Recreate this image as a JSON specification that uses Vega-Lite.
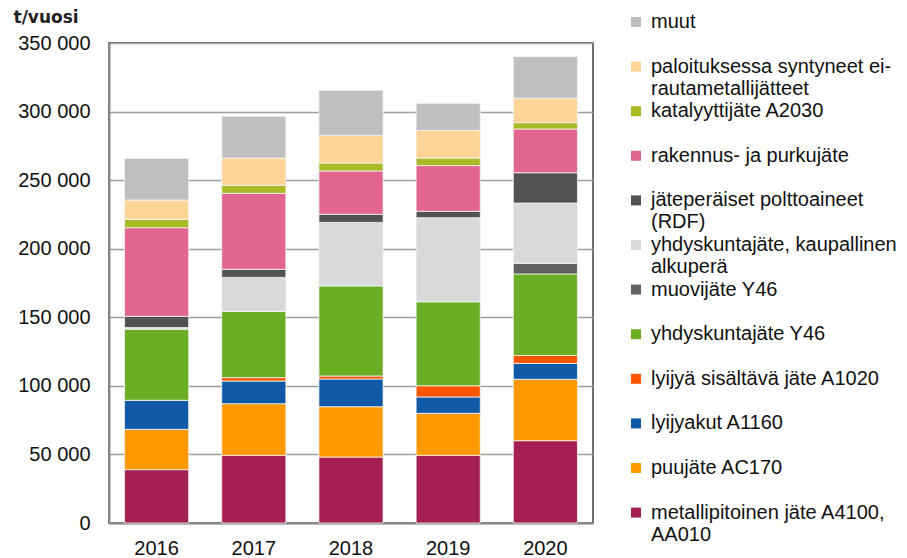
{
  "$schema": "https://vega.github.io/schema/vega-lite/v6.json",
  "width": 484,
  "height": 480,
  "autosize": {"type": "none"},
  "padding": {"left": 109, "top": 43, "right": 314, "bottom": 35},
  "background": "white",
  "config": {
    "locale": {"number": {"decimal": ",", "thousands": " ", "grouping": [3], "currency": ["", " €"]}},
    "view": {"stroke": "#404040", "strokeWidth": 1.5},
    "font": "Liberation Sans"
  },
  "data": {
    "values": [
      {"v": "2016", "o": 1, "c": "metallipitoinen jäte A4100,|AA010", "t": 38900},
      {"v": "2016", "o": 2, "c": "puujäte AC170", "t": 29400},
      {"v": "2016", "o": 3, "c": "lyijyakut A1160", "t": 21200},
      {"v": "2016", "o": 4, "c": "lyijyä sisältävä jäte A1020", "t": 0},
      {"v": "2016", "o": 5, "c": "yhdyskuntajäte Y46", "t": 52000},
      {"v": "2016", "o": 6, "c": "muovijäte Y46", "t": 0},
      {"v": "2016", "o": 7, "c": "yhdyskuntajäte, kaupallinen|alkuperä", "t": 1000},
      {"v": "2016", "o": 8, "c": "jäteperäiset polttoaineet|(RDF)", "t": 8200},
      {"v": "2016", "o": 9, "c": "rakennus- ja purkujäte", "t": 64600},
      {"v": "2016", "o": 10, "c": "katalyyttijäte A2030", "t": 6100},
      {"v": "2016", "o": 11, "c": "paloituksessa syntyneet ei-|rautametallijätteet", "t": 14100},
      {"v": "2016", "o": 12, "c": "muut", "t": 30400},
      {"v": "2017", "o": 1, "c": "metallipitoinen jäte A4100,|AA010", "t": 49300},
      {"v": "2017", "o": 2, "c": "puujäte AC170", "t": 37700},
      {"v": "2017", "o": 3, "c": "lyijyakut A1160", "t": 16500},
      {"v": "2017", "o": 4, "c": "lyijyä sisältävä jäte A1020", "t": 2500},
      {"v": "2017", "o": 5, "c": "yhdyskuntajäte Y46", "t": 48300},
      {"v": "2017", "o": 6, "c": "muovijäte Y46", "t": 0},
      {"v": "2017", "o": 7, "c": "yhdyskuntajäte, kaupallinen|alkuperä", "t": 24800},
      {"v": "2017", "o": 8, "c": "jäteperäiset polttoaineet|(RDF)", "t": 5900},
      {"v": "2017", "o": 9, "c": "rakennus- ja purkujäte", "t": 55400},
      {"v": "2017", "o": 10, "c": "katalyyttijäte A2030", "t": 5800},
      {"v": "2017", "o": 11, "c": "paloituksessa syntyneet ei-|rautametallijätteet", "t": 19900},
      {"v": "2017", "o": 12, "c": "muut", "t": 30400},
      {"v": "2018", "o": 1, "c": "metallipitoinen jäte A4100,|AA010", "t": 48100},
      {"v": "2018", "o": 2, "c": "puujäte AC170", "t": 36700},
      {"v": "2018", "o": 3, "c": "lyijyakut A1160", "t": 20200},
      {"v": "2018", "o": 4, "c": "lyijyä sisältävä jäte A1020", "t": 2200},
      {"v": "2018", "o": 5, "c": "yhdyskuntajäte Y46", "t": 65800},
      {"v": "2018", "o": 6, "c": "muovijäte Y46", "t": 0},
      {"v": "2018", "o": 7, "c": "yhdyskuntajäte, kaupallinen|alkuperä", "t": 46200},
      {"v": "2018", "o": 8, "c": "jäteperäiset polttoaineet|(RDF)", "t": 5900},
      {"v": "2018", "o": 9, "c": "rakennus- ja purkujäte", "t": 31600},
      {"v": "2018", "o": 10, "c": "katalyyttijäte A2030", "t": 5800},
      {"v": "2018", "o": 11, "c": "paloituksessa syntyneet ei-|rautametallijätteet", "t": 20200},
      {"v": "2018", "o": 12, "c": "muut", "t": 32800},
      {"v": "2019", "o": 1, "c": "metallipitoinen jäte A4100,|AA010", "t": 49300},
      {"v": "2019", "o": 2, "c": "puujäte AC170", "t": 30700},
      {"v": "2019", "o": 3, "c": "lyijyakut A1160", "t": 11900},
      {"v": "2019", "o": 4, "c": "lyijyä sisältävä jäte A1020", "t": 8200},
      {"v": "2019", "o": 5, "c": "yhdyskuntajäte Y46", "t": 61300},
      {"v": "2019", "o": 6, "c": "muovijäte Y46", "t": 0},
      {"v": "2019", "o": 7, "c": "yhdyskuntajäte, kaupallinen|alkuperä", "t": 61200},
      {"v": "2019", "o": 8, "c": "jäteperäiset polttoaineet|(RDF)", "t": 4700},
      {"v": "2019", "o": 9, "c": "rakennus- ja purkujäte", "t": 33300},
      {"v": "2019", "o": 10, "c": "katalyyttijäte A2030", "t": 5500},
      {"v": "2019", "o": 11, "c": "paloituksessa syntyneet ei-|rautametallijätteet", "t": 20200},
      {"v": "2019", "o": 12, "c": "muut", "t": 19700},
      {"v": "2020", "o": 1, "c": "metallipitoinen jäte A4100,|AA010", "t": 60000},
      {"v": "2020", "o": 2, "c": "puujäte AC170", "t": 44800},
      {"v": "2020", "o": 3, "c": "lyijyakut A1160", "t": 11600},
      {"v": "2020", "o": 4, "c": "lyijyä sisältävä jäte A1020", "t": 5800},
      {"v": "2020", "o": 5, "c": "yhdyskuntajäte Y46", "t": 59400},
      {"v": "2020", "o": 6, "c": "muovijäte Y46", "t": 7700},
      {"v": "2020", "o": 7, "c": "yhdyskuntajäte, kaupallinen|alkuperä", "t": 44000},
      {"v": "2020", "o": 8, "c": "jäteperäiset polttoaineet|(RDF)", "t": 22100},
      {"v": "2020", "o": 9, "c": "rakennus- ja purkujäte", "t": 31900},
      {"v": "2020", "o": 10, "c": "katalyyttijäte A2030", "t": 4600},
      {"v": "2020", "o": 11, "c": "paloituksessa syntyneet ei-|rautametallijätteet", "t": 17800},
      {"v": "2020", "o": 12, "c": "muut", "t": 30300}
    ]
  },
  "mark": {"type": "bar", "stroke": "#f4f4f4", "strokeWidth": 0.8},
  "encoding": {
    "x": {
      "field": "v",
      "type": "nominal",
      "scale": {"paddingInner": 0.34, "paddingOuter": 0.16},
      "axis": {
        "title": null,
        "labelAngle": 0,
        "labelFontSize": 20,
        "labelColor": "#111111",
        "labelPadding": 15,
        "ticks": false,
        "domainColor": "#8c8c8c",
        "domainWidth": 2,
        "grid": false
      }
    },
    "y": {
      "field": "t",
      "type": "quantitative",
      "stack": "zero",
      "scale": {"domain": [0, 350000], "nice": false},
      "axis": {
        "values": [0, 50000, 100000, 150000, 200000, 250000, 300000, 350000],
        "format": ",.0f",
        "labelFontSize": 20,
        "labelColor": "#111111",
        "labelPadding": 19,
        "ticks": false,
        "domainColor": "#8c8c8c",
        "domainWidth": 2,
        "gridColor": "#a0a0a0",
        "gridWidth": 1.5,
        "title": "t/vuosi",
        "titleAngle": 0,
        "titleAlign": "left",
        "titleBaseline": "middle",
        "titleX": -96,
        "titleY": -26,
        "titleFont": "DejaVu Sans",
        "titleFontSize": 17,
        "titleFontWeight": "bold",
        "titleColor": "#222222"
      }
    },
    "order": {"field": "o", "type": "quantitative"},
    "color": {
      "field": "c",
      "type": "nominal",
      "scale": {
        "domain": [
          "muut",
          "paloituksessa syntyneet ei-|rautametallijätteet",
          "katalyyttijäte A2030",
          "rakennus- ja purkujäte",
          "jäteperäiset polttoaineet|(RDF)",
          "yhdyskuntajäte, kaupallinen|alkuperä",
          "muovijäte Y46",
          "yhdyskuntajäte Y46",
          "lyijyä sisältävä jäte A1020",
          "lyijyakut A1160",
          "puujäte AC170",
          "metallipitoinen jäte A4100,|AA010"
        ],
        "range": ["#bfbfbf", "#fed597", "#a8ba24", "#e16590", "#525252", "#d9d9d9", "#616161", "#6bad24", "#ff5500", "#0f59a6", "#ff9900", "#a52052"]
      },
      "legend": {
        "title": null,
        "orient": "none",
        "legendX": 517,
        "legendY": -31,
        "padding": 0,
        "gridAlign": "all",
        "rowPadding": 2.6,
        "symbolType": "square",
        "symbolSize": 100,
        "symbolStrokeWidth": 0,
        "labelFontSize": 20,
        "labelColor": "#111111",
        "labelOffset": 5,
        "labelLimit": 400,
        "labelBaseline": "middle",
        "labelLineHeight": 22,
        "labelExpr": "split(datum.label, '|')"
      }
    }
  }
}
